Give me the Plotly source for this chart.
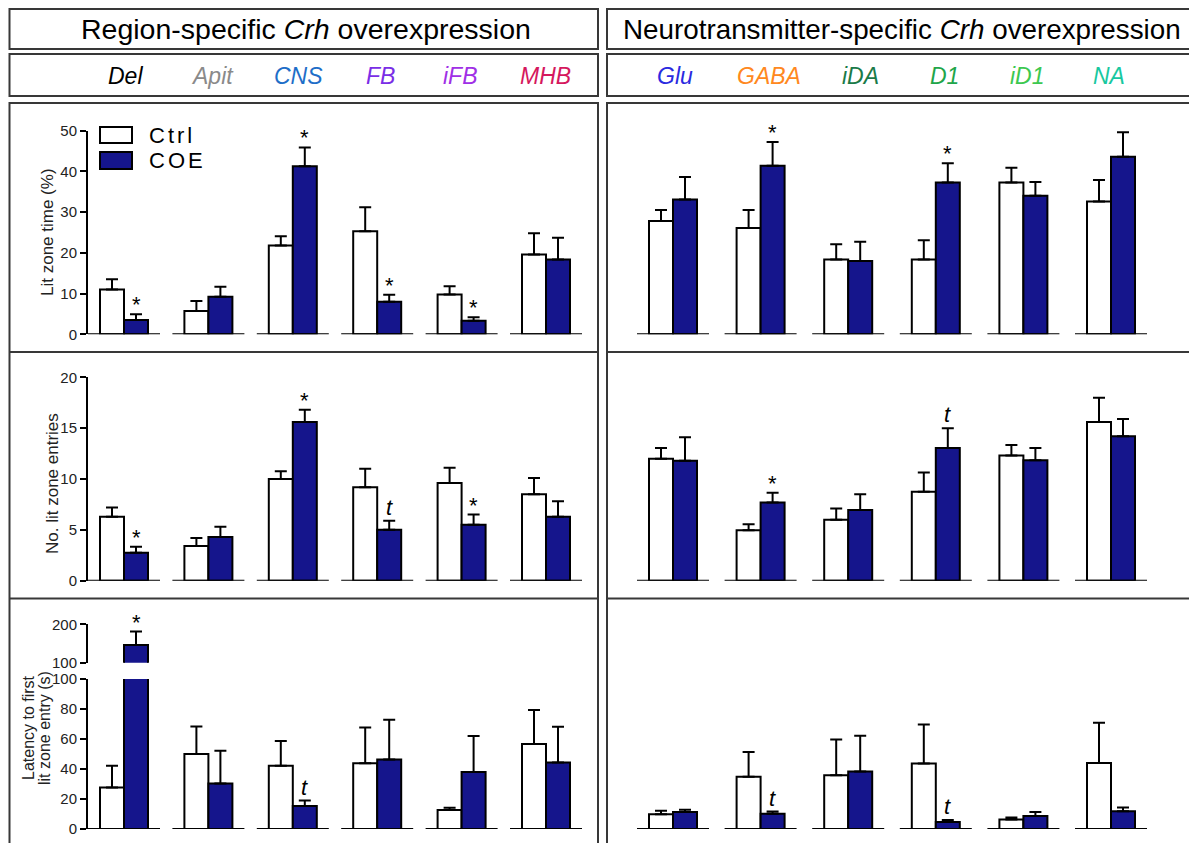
import plotly.graph_objects as go

# ---------------- data ----------------
region_groups = ["Del", "Apit", "CNS", "FB", "iFB", "MHB"]
nt_groups = ["Glu", "GABA", "iDA", "D1", "iD1", "NA"]
region_label_colors = ["#000000", "#8a8a8a", "#1e6ec8", "#7a2ee6", "#a030e6", "#d5185d"]
nt_label_colors = ["#2a2ae0", "#ff8820", "#1a7a48", "#1fa64a", "#3cc850", "#18c8a0"]

# Lit zone time (%)
time_region_ctrl = [11.0, 5.7, 21.8, 25.3, 9.8, 19.6]
time_region_ctrl_sem = [2.5, 2.5, 2.3, 5.9, 2.0, 5.2]
time_region_coe = [3.5, 9.2, 41.3, 8.0, 3.3, 18.4]
time_region_coe_sem = [1.4, 2.5, 4.6, 1.7, 0.9, 5.3]
time_nt_ctrl = [27.8, 26.1, 18.4, 18.4, 37.3, 32.6]
time_nt_ctrl_sem = [2.7, 4.4, 3.7, 4.7, 3.6, 5.3]
time_nt_coe = [33.1, 41.4, 18.0, 37.3, 34.0, 43.6]
time_nt_coe_sem = [5.5, 5.8, 4.7, 4.7, 3.4, 6.0]
time_region_marks = ["*", "", "*", "*", "*", ""]
time_nt_marks = ["", "*", "", "*", "", ""]

# No. lit zone entries
entries_region_ctrl = [6.3, 3.4, 10.0, 9.2, 9.6, 8.5]
entries_region_ctrl_sem = [0.9, 0.8, 0.75, 1.8, 1.5, 1.6]
entries_region_coe = [2.75, 4.3, 15.6, 5.0, 5.5, 6.3]
entries_region_coe_sem = [0.6, 1.0, 1.2, 0.9, 1.0, 1.5]
entries_nt_ctrl = [12.0, 4.95, 6.0, 8.75, 12.3, 15.6]
entries_nt_ctrl_sem = [1.05, 0.6, 1.1, 1.9, 1.05, 2.4]
entries_nt_coe = [11.8, 7.7, 6.95, 13.05, 11.85, 14.2]
entries_nt_coe_sem = [2.3, 0.95, 1.55, 1.95, 1.2, 1.7]
entries_region_marks = ["*", "", "*", "t", "*", ""]
entries_nt_marks = ["", "*", "", "t", "", ""]

# Latency to first lit zone entry (s)
latency_region_ctrl = [27.6, 50.0, 42.2, 43.8, 12.7, 56.7]
latency_region_ctrl_sem = [14.6, 18.4, 16.5, 23.8, 1.5, 22.6]
latency_region_coe = [146.0, 30.4, 15.3, 46.4, 38.0, 44.4]
latency_region_coe_sem = [35.0, 21.8, 3.7, 26.5, 24.0, 23.8]
latency_nt_ctrl = [9.8, 34.9, 35.8, 43.6, 6.4, 44.0]
latency_nt_ctrl_sem = [2.4, 16.4, 23.8, 26.0, 1.2, 26.9]
latency_nt_coe = [11.3, 10.2, 38.4, 4.7, 8.7, 11.8]
latency_nt_coe_sem = [1.6, 1.4, 23.8, 1.3, 2.6, 2.6]
latency_region_marks = ["*", "", "t", "", "", ""]
latency_nt_marks = ["", "t", "", "t", "", ""]

# ---------------- styling / layout ----------------
W, H = 1189, 843
FONT = "Liberation Sans, Arial, sans-serif"
NAVY = "#15158c"
BORDER = "#383838"


def fx(px):
    return px / W


def fy(py):
    return 1 - py / H


LEFT = dict(ax_px=88, end_px=596, c0=124.0, step=84.4)
RIGHT = dict(ax_px=607, end_px=1189, c0=673.0, step=87.6)
BAR_PX = 24
HALF_BASE_PX = 36

fig = go.Figure()
shapes = []
annotations = []
layout_axes = {}

panels = [
    dict(n=1, col=LEFT, yd=(334.3, 130.7), yr=[0, 50], dtick=10, show=True,
         c=time_region_ctrl, cs=time_region_ctrl_sem, e=time_region_coe, es=time_region_coe_sem,
         marks=time_region_marks, base=True),
    dict(n=2, col=LEFT, yd=(580.7, 377.3), yr=[0, 20], dtick=5, show=True,
         c=entries_region_ctrl, cs=entries_region_ctrl_sem, e=entries_region_coe, es=entries_region_coe_sem,
         marks=entries_region_marks, base=True),
    dict(n=3, col=LEFT, yd=(829.0, 679.0), yr=[0, 100], dtick=20, show=True,
         c=latency_region_ctrl, cs=latency_region_ctrl_sem, e=latency_region_coe, es=latency_region_coe_sem,
         marks=latency_region_marks, base=True, upper=4),
    dict(n=4, col=LEFT, yd=(662.7, 624.3), yr=[100, 200], dtick=100, show=True,
         c=latency_region_ctrl, cs=latency_region_ctrl_sem, e=latency_region_coe, es=latency_region_coe_sem,
         marks=None, base=False),
    dict(n=5, col=RIGHT, yd=(334.3, 130.7), yr=[0, 50], dtick=10, show=False,
         c=time_nt_ctrl, cs=time_nt_ctrl_sem, e=time_nt_coe, es=time_nt_coe_sem,
         marks=time_nt_marks, base=True),
    dict(n=6, col=RIGHT, yd=(580.7, 377.3), yr=[0, 20], dtick=5, show=False,
         c=entries_nt_ctrl, cs=entries_nt_ctrl_sem, e=entries_nt_coe, es=entries_nt_coe_sem,
         marks=entries_nt_marks, base=True),
    dict(n=7, col=RIGHT, yd=(829.0, 679.0), yr=[0, 100], dtick=20, show=False,
         c=latency_nt_ctrl, cs=latency_nt_ctrl_sem, e=latency_nt_coe, es=latency_nt_coe_sem,
         marks=latency_nt_marks, base=True),
]

for p in panels:
    n = p["n"]
    col = p["col"]
    sfx = "" if n == 1 else str(n)
    xa, ya = "x" + sfx, "y" + sfx
    step = col["step"]
    w = BAR_PX / step
    hb = HALF_BASE_PX / step
    xr = [(col["ax_px"] - col["c0"]) / step, (col["end_px"] - col["c0"]) / step]
    layout_axes["xaxis" + sfx] = dict(domain=[fx(col["ax_px"]), fx(col["end_px"])], range=xr,
                                      visible=False, anchor=ya, fixedrange=True, automargin=False)
    yax = dict(domain=[fy(p["yd"][0]), fy(p["yd"][1])], range=p["yr"], anchor=xa,
               showgrid=False, zeroline=False, fixedrange=True, automargin=False)
    if p["show"]:
        yax.update(showline=True, linecolor="black", linewidth=2, ticks="outside", ticklen=6,
                   tickwidth=2, tickcolor="black", tickmode="linear", tick0=p["yr"][0],
                   dtick=p["dtick"], tickfont=dict(size=15, color="#222222", family=FONT))
    else:
        yax.update(visible=False)
    layout_axes["yaxis" + sfx] = yax

    xs = list(range(len(p["c"])))
    fig.add_trace(go.Bar(
        x=xs, y=p["c"], width=[w] * len(xs), offset=-w, xaxis=xa, yaxis=ya,
        marker=dict(color="white", line=dict(color="black", width=2)),
        error_y=dict(type="data", array=p["cs"], arrayminus=[0] * len(xs), symmetric=False,
                     color="black", thickness=2, width=6),
        showlegend=False, hoverinfo="skip"))
    fig.add_trace(go.Bar(
        x=xs, y=p["e"], width=[w] * len(xs), offset=0, xaxis=xa, yaxis=ya,
        marker=dict(color=NAVY, line=dict(color="black", width=2)),
        error_y=dict(type="data", array=p["es"], arrayminus=[0] * len(xs), symmetric=False,
                     color="black", thickness=2, width=6),
        showlegend=False, hoverinfo="skip"))

    if p["base"]:
        for i in xs:
            shapes.append(dict(type="line", xref=xa, yref=ya, x0=i - hb, x1=i + hb,
                               y0=p["yr"][0], y1=p["yr"][0], line=dict(color="black", width=2)))
    if p["marks"]:
        for i, m in enumerate(p["marks"]):
            if not m:
                continue
            top = p["e"][i] + p["es"][i]
            yref = ya
            if top > p["yr"][1] and p.get("upper"):
                yref = "y" + str(p["upper"])
            is_star = (m == "*")
            annotations.append(dict(x=i + w / 2, y=top, xref=xa, yref=yref,
                                    text=m if is_star else "<i>%s</i>" % m,
                                    showarrow=False, yanchor="bottom", yshift=-5 if is_star else -1,
                                    font=dict(size=22, color="black", family=FONT)))


# ---------------- frames ----------------
def rect(x0, y0, x1, y1):
    shapes.append(dict(type="rect", xref="paper", yref="paper", x0=fx(x0), x1=fx(x1),
                       y0=fy(y1), y1=fy(y0), line=dict(color=BORDER, width=2), layer="below"))


def hline(x0, x1, y):
    shapes.append(dict(type="line", xref="paper", yref="paper", x0=fx(x0), x1=fx(x1),
                       y0=fy(y), y1=fy(y), line=dict(color=BORDER, width=2), layer="below"))


rect(9.5, 9, 598, 49)
rect(607, 9, 1210, 49)
rect(9.5, 54, 598, 96)
rect(607, 54, 1210, 96)
rect(9.5, 103, 598, 870)
rect(607, 103, 1210, 870)
for yy in (352, 598.5):
    hline(9.5, 598, yy)
    hline(607, 1210, yy)

# ---------------- headers ----------------
annotations.append(dict(x=fx(306), y=fy(29.5), xref="paper", yref="paper",
                        text="Region-specific <i>Crh</i> overexpression", showarrow=False,
                        xanchor="center", yanchor="middle",
                        font=dict(size=28.5, color="black", family=FONT)))
annotations.append(dict(x=fx(621), y=fy(29.5), xref="paper", yref="paper",
                        text="Neurotransmitter-specific <i>Crh</i> overexpression", showarrow=False,
                        xanchor="left", yanchor="middle",
                        font=dict(size=27.8, color="black", family=FONT)))

region_label_px = [125, 212, 299, 380, 460, 545]
nt_label_px = [675, 769, 860, 944, 1027, 1109]
for name, c, px in zip(region_groups, region_label_colors, region_label_px):
    annotations.append(dict(x=fx(px), y=fy(76), xref="paper", yref="paper", text="<i>%s</i>" % name,
                            showarrow=False, xanchor="center", yanchor="middle",
                            font=dict(size=23, color=c, family=FONT)))
for name, c, px in zip(nt_groups, nt_label_colors, nt_label_px):
    annotations.append(dict(x=fx(px), y=fy(76), xref="paper", yref="paper", text="<i>%s</i>" % name,
                            showarrow=False, xanchor="center", yanchor="middle",
                            font=dict(size=23, color=c, family=FONT)))


# ---------------- y titles ----------------
def ytitle(text, x, y, size=17):
    annotations.append(dict(x=fx(x), y=fy(y), xref="paper", yref="paper", text=text,
                            showarrow=False, textangle=-90, xanchor="center", yanchor="middle",
                            font=dict(size=size, color="#222222", family=FONT)))


ytitle("Lit zone time (%)", 47, 232)
ytitle("No. lit zone entries", 52, 484)
ytitle("Latency to first", 28, 728, 16)
ytitle("lit zone entry (s)", 44, 728, 16)

# ---------------- legend ----------------
shapes.append(dict(type="rect", xref="paper", yref="paper", x0=fx(100), x1=fx(132),
                   y0=fy(143), y1=fy(127), fillcolor="white", line=dict(color="black", width=2)))
shapes.append(dict(type="rect", xref="paper", yref="paper", x0=fx(100), x1=fx(132),
                   y0=fy(169), y1=fy(152), fillcolor=NAVY, line=dict(color="black", width=2)))
annotations.append(dict(x=fx(147), y=fy(135), xref="paper", yref="paper",
                        text='<span style="letter-spacing:3px">Ctrl</span>', showarrow=False,
                        xanchor="left", yanchor="middle", font=dict(size=22, color="black", family=FONT)))
annotations.append(dict(x=fx(147), y=fy(160.5), xref="paper", yref="paper",
                        text='<span style="letter-spacing:3px">COE</span>', showarrow=False,
                        xanchor="left", yanchor="middle", font=dict(size=22, color="black", family=FONT)))

fig.update_layout(
    width=W, height=H, margin=dict(l=0, r=0, t=0, b=0, pad=0, autoexpand=False),
    paper_bgcolor="white", plot_bgcolor="rgba(0,0,0,0)",
    barmode="overlay", showlegend=False,
    font=dict(family=FONT),
    shapes=shapes, annotations=annotations,
    **layout_axes,
)

fig.write_html("out.html")
